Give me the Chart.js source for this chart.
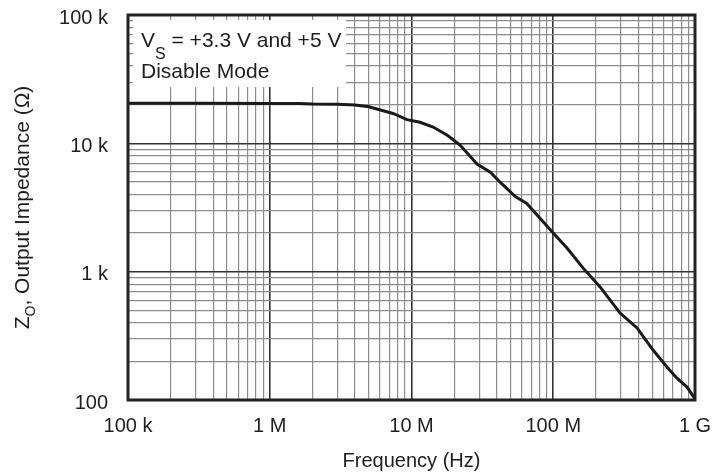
<!DOCTYPE html>
<html><head><meta charset="utf-8">
<script src="https://cdn.jsdelivr.net/npm/chart.js@4/dist/chart.umd.min.js"></script>
<style>html,body{margin:0;padding:0;background:#fff}#wrap{width:714px;height:474px}</style>
</head><body><div id="wrap"><canvas id="c" width="714" height="474"></canvas></div>
<script>
// Data
const frequencyHz = [1e5, 3e5, 1e6, 1.6e6, 2e6, 3e6, 4e6, 5e6, 7.4e6, 9.3e6, 11.5e6, 14.2e6, 18e6, 22e6, 29e6, 36e6, 42e6, 54e6, 65e6, 72e6, 100e6, 125e6, 162e6, 214e6, 296e6, 390e6, 506e6, 634e6, 746e6, 879e6, 1e9];
const impedanceOhm = [20500, 20500, 20450, 20400, 20250, 20200, 19900, 19300, 17100, 15300, 14600, 13400, 11500, 9700, 6900, 5950, 5000, 3850, 3400, 3000, 2000, 1530, 1070, 760, 476, 364, 245, 181, 148, 126, 102];

const xTickValues = [1e5, 1e6, 1e7, 1e8, 1e9];
const xTickLabels = ['100 k', '1 M', '10 M', '100 M', '1 G'];
const yTickValues = [100, 1000, 10000, 100000];
const yTickLabels = ['100', '1 k', '10 k', '100 k'];

const xTitle = 'Frequency (Hz)';
const yTitleMain = 'Z';
const yTitleSub = 'O';
const yTitleRest = ', Output Impedance (Ω)';
const noteMain = 'V';
const noteSub = 'S';
const noteRest = ' = +3.3 V and +5 V';
const noteLine2 = 'Disable Mode';

const FONT = '"Liberation Sans", Arial, Helvetica, sans-serif';
const TEXT = '#1e1e1e';

function gridValues(min, max) {
  const out = [];
  for (let d = min; d < max; d *= 10) {
    for (let m = 1; m <= 9; m++) out.push(m * d);
  }
  out.push(max);
  return out;
}
function isMajor(v) {
  const l = Math.log10(v);
  return Math.abs(l - Math.round(l)) < 1e-9;
}
function labelFor(values, labels) {
  return (v) => {
    for (let i = 0; i < values.length; i++) {
      if (Math.abs(values[i] - v) / values[i] < 1e-9) return labels[i];
    }
    return '';
  };
}

const decor = {
  id: 'decor',
  beforeDatasetsDraw(chart) {
    const { ctx, chartArea: a } = chart;
    ctx.save();
    // white legend box over the grid
    ctx.fillStyle = '#fff';
    ctx.fillRect(a.left + 5, a.top + 5, 213, 67);
    ctx.fillStyle = TEXT;
    ctx.textBaseline = 'alphabetic';
    ctx.textAlign = 'left';
    let x = a.left + 13;
    const y1 = a.top + 32;
    ctx.font = '21px ' + FONT;
    ctx.fillText(noteMain, x, y1);
    x += ctx.measureText(noteMain).width;
    ctx.font = '16px ' + FONT;
    ctx.fillText(noteSub, x, y1 + 12);
    x += ctx.measureText(noteSub).width;
    ctx.font = '21px ' + FONT;
    ctx.fillText(noteRest, x, y1);
    ctx.fillText(noteLine2, a.left + 13, a.top + 63);

    // rotated y axis title
    ctx.save();
    ctx.translate(28.5, (a.top + a.bottom) / 2);
    ctx.rotate(-Math.PI / 2);
    ctx.font = '21px ' + FONT;
    const w1 = ctx.measureText(yTitleMain).width;
    const w3 = ctx.measureText(yTitleRest).width;
    ctx.font = '14px ' + FONT;
    const w2 = ctx.measureText(yTitleSub).width;
    let tx = -(w1 + w2 + w3) / 2;
    ctx.font = '21px ' + FONT;
    ctx.fillText(yTitleMain, tx, 0);
    tx += w1;
    ctx.font = '14px ' + FONT;
    ctx.fillText(yTitleSub, tx, 6.5);
    tx += w2;
    ctx.font = '21px ' + FONT;
    ctx.fillText(yTitleRest, tx, 0);
    ctx.restore();
    ctx.restore();
  },
  afterDatasetsDraw(chart) {
    const { ctx, chartArea: a } = chart;
    ctx.save();
    ctx.strokeStyle = '#222';
    ctx.lineWidth = 3;
    ctx.strokeRect(a.left, a.top, a.right - a.left, a.bottom - a.top);
    ctx.restore();
  }
};

const gridColor = (c) => (c.tick && isMajor(c.tick.value)) ? '#333' : '#8c8c8c';
const gridWidth = (c) => (c.tick && isMajor(c.tick.value)) ? 1.6 : 1.2;

new Chart(document.getElementById('c'), {
  type: 'line',
  data: {
    datasets: [{
      data: frequencyHz.map((f, i) => ({ x: f, y: impedanceOhm[i] })),
      borderColor: '#1a1a1a',
      borderWidth: 3,
      pointRadius: 0,
      tension: 0,
      fill: false
    }]
  },
  options: {
    responsive: false,
    animation: false,
    devicePixelRatio: 1,
    layout: { padding: { left: 0, right: 19, top: 15, bottom: 0 } },
    plugins: { legend: { display: false }, tooltip: { enabled: false } },
    scales: {
      x: {
        type: 'logarithmic',
        min: 1e5, max: 1e9,
        afterFit(s) { s.height = 74; s.paddingLeft = 0; s.paddingRight = 0; },
        afterBuildTicks(s) { s.ticks = gridValues(1e5, 1e9).map(v => ({ value: v })); },
        grid: { drawTicks: false, color: gridColor, lineWidth: gridWidth },
        border: { display: false },
        ticks: {
          autoSkip: false, maxRotation: 0, minRotation: 0, padding: 14, color: TEXT,
          font: { size: 20, family: FONT },
          callback: labelFor(xTickValues, xTickLabels)
        },
        title: { display: true, text: xTitle, color: TEXT, font: { size: 20, family: FONT }, padding: { top: 0, bottom: 1 } }
      },
      y: {
        type: 'logarithmic',
        min: 100, max: 100000,
        afterFit(s) { s.width = 128; s.paddingTop = 0; s.paddingBottom = 0; },
        afterBuildTicks(s) { s.ticks = gridValues(100, 100000).map(v => ({ value: v })); },
        grid: { drawTicks: false, color: gridColor, lineWidth: gridWidth },
        border: { display: false },
        ticks: {
          autoSkip: false, padding: 20, color: TEXT, labelOffset: 3,
          font: { size: 20, family: FONT },
          callback: labelFor(yTickValues, yTickLabels)
        }
      }
    }
  },
  plugins: [decor]
});
</script>
</body></html>
